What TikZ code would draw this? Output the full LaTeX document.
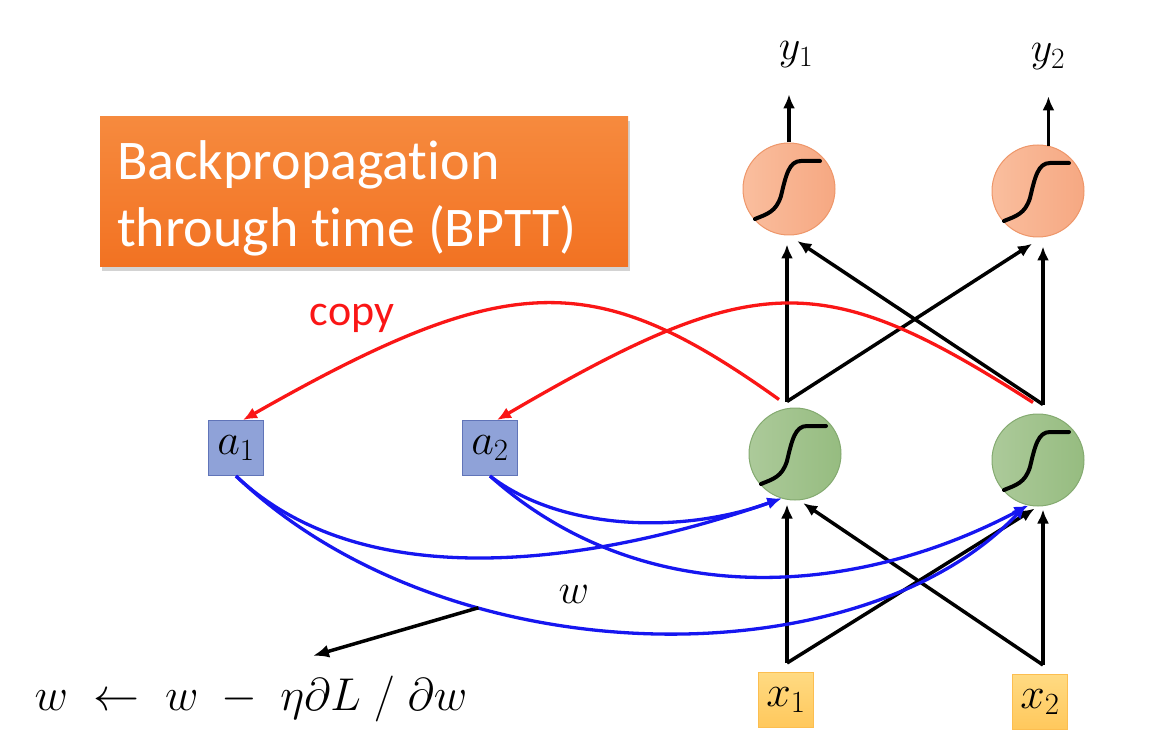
\RequirePackage{fix-cm}
\documentclass[tikz,border=0pt]{standalone}
\usepackage{fontspec}
\setmainfont{Carlito}[Ligatures=NoCommon]
\usetikzlibrary{arrows.meta,shadows}

\definecolor{boxtop}{RGB}{246,138,62}
\definecolor{boxbottom}{RGB}{242,114,34}
\definecolor{outleft}{RGB}{250,190,158}
\definecolor{outright}{RGB}{246,168,130}
\definecolor{outedge}{RGB}{238,150,105}
\definecolor{hidleft}{RGB}{172,202,154}
\definecolor{hidright}{RGB}{150,188,128}
\definecolor{hidedge}{RGB}{132,170,112}
\definecolor{memfill}{RGB}{143,162,216}
\definecolor{memedge}{RGB}{96,116,184}
\definecolor{intop}{RGB}{255,218,130}
\definecolor{inbottom}{RGB}{255,200,92}
\definecolor{inedge}{RGB}{252,190,80}
\definecolor{copyred}{RGB}{250,22,22}
\definecolor{wblue}{RGB}{22,22,240}

% sigmoid drawn inside a neuron
\newcommand{\sigmoidcurve}[1]{%
  \draw[sigline, shift={(#1)}] (-34,30) .. controls (-22,25) and (-13,23) .. (-8,7)
    .. controls (-3,-14) and (0,-28) .. (12,-28) -- (31,-28);}

\begin{document}
\begin{tikzpicture}[x=1pt, y=-1pt,
    titlebox/.style={rectangle, top color=boxtop, bottom color=boxbottom,
        minimum width=528pt, minimum height=150pt,
        drop shadow={opacity=0.35, shadow xshift=1.5pt, shadow yshift=-4pt}},
    titletext/.style={text=white, align=left, inner sep=0pt,
        font=\fontsize{56}{67}\selectfont},
    neuron/.style={circle, line width=1pt, minimum size=92pt, inner sep=0pt},
    outneuron/.style={neuron, draw=outedge, left color=outleft, right color=outright},
    hidneuron/.style={neuron, draw=hidedge, left color=hidleft, right color=hidright},
    cell/.style={rectangle, line width=1pt, minimum size=55pt, inner sep=0pt,
        font=\fontsize{44}{50}\selectfont},
    memcell/.style={cell, draw=memedge, fill=memfill},
    incell/.style={cell, draw=inedge, top color=intop, bottom color=inbottom},
    mathlabel/.style={inner sep=0pt, font=\fontsize{42}{50}\selectfont},
    copylabel/.style={inner sep=0pt, text=copyred, font=\fontsize{44}{50}\selectfont},
    formula/.style={inner sep=0pt, font=\fontsize{46}{52}\selectfont},
    conn/.style={line width=3.5pt, -{Latex[length=14pt,width=12pt]}},
    copyconn/.style={conn, draw=copyred, line width=3.3pt},
    wconn/.style={conn, draw=wblue, line width=3.3pt},
    sigline/.style={line width=4pt, line cap=round, line join=round}
]
\useasboundingbox (0,0) rectangle (1176,754);

% title
\node[titlebox] (bptt) at (364,192) {};
\node[titletext, anchor=west] (bpttlabel) at ([shift={(17,6)}]bptt.west)
    {Backpropagation\\through time (BPTT)};

% neurons
\node[outneuron] (o1) at (789,189) {};
\node[outneuron] (o2) at (1038,191) {};
\node[hidneuron] (h1) at (795,454) {};
\node[hidneuron] (h2) at (1038,460) {};
\foreach \n in {o1,o2,h1,h2} {\sigmoidcurve{\n}}

% memory and input cells
\node[memcell] (a1) at (236,448) {$a_1$};
\node[memcell] (a2) at (490,448) {$a_2$};
\node[incell] (x1) at (786,700) {$x_1$};
\node[incell] (x2) at (1040,702) {$x_2$};

% labels
\node[mathlabel] (y1) at (796,55) {$y_1$};
\node[mathlabel] (y2) at (1048,57) {$y_2$};
\node[copylabel] (copy) at (352,318) {copy};
\node[mathlabel] (wlabel) at (574,594) {$w$};
\node[formula] (upd) at (251,699) {$w \;\leftarrow\; w \;-\; \eta\partial L \;/\; \partial w$};

% outputs
\draw[conn, shorten >=26pt] (o1.north) -- (o1.north |- y1.south);
\draw[conn, shorten >=26pt] (o2.77) -- (o2.77 |- y2.south);

% hidden to output
\coordinate (h1top) at ([shift={(-8,-6)}]h1.north);
\coordinate (h2top) at ([shift={(5,-9)}]h2.north);
\draw[conn, shorten >=9pt] (h1top) -- (h1top |- o1.south);
\draw[conn, shorten >=12pt] (h1top) -- (o2.275);
\draw[conn, shorten >=9pt] (h2top) -- (h2top |- o2.south);
\draw[conn, shorten >=10pt] (h2top) -- (o1.270);

% input to hidden
\coordinate (x1top) at ([shift={(1,-9)}]x1.north);
\coordinate (x2top) at ([shift={(3,-9)}]x2.north);
\draw[conn, shorten >=4pt] (x1top) -- (x1top |- h1.south);
\draw[conn, shorten >=4pt] (x1top) -- (h2.south);
\draw[conn, shorten >=3pt] (x2top) -- (x2top |- h2.south);
\draw[conn, shorten >=5pt] (x2top) -- (h1.275);

% copy
\draw[copyconn] ([shift={(-16,-8)}]h1.north) .. controls (595,268) and (510,268) .. ([xshift=7]a1.north);
\draw[copyconn] ([shift={(-5,-11)}]h2.north) .. controls (823,268) and (757,268) .. ([xshift=7]a2.north);

% memory weights
\draw[wconn] (a1.south) .. controls (380,612) and (640,548) .. (h1.253);
\draw[wconn] (a1.south) .. controls (450,680) and (860,680) .. coordinate[pos=0.31] (wpick) (h2.255);
\draw[wconn] (a2.south) .. controls (560,530) and (680,535) .. (h1.253);
\draw[wconn] (a2.south) .. controls (640,610) and (850,600) .. (h2.258);

% update
\draw[conn, -{Latex[length=16pt,width=13pt]}] (wpick) -- ([shift={(62,-20)}]upd.north);

\end{tikzpicture}
\end{document}
